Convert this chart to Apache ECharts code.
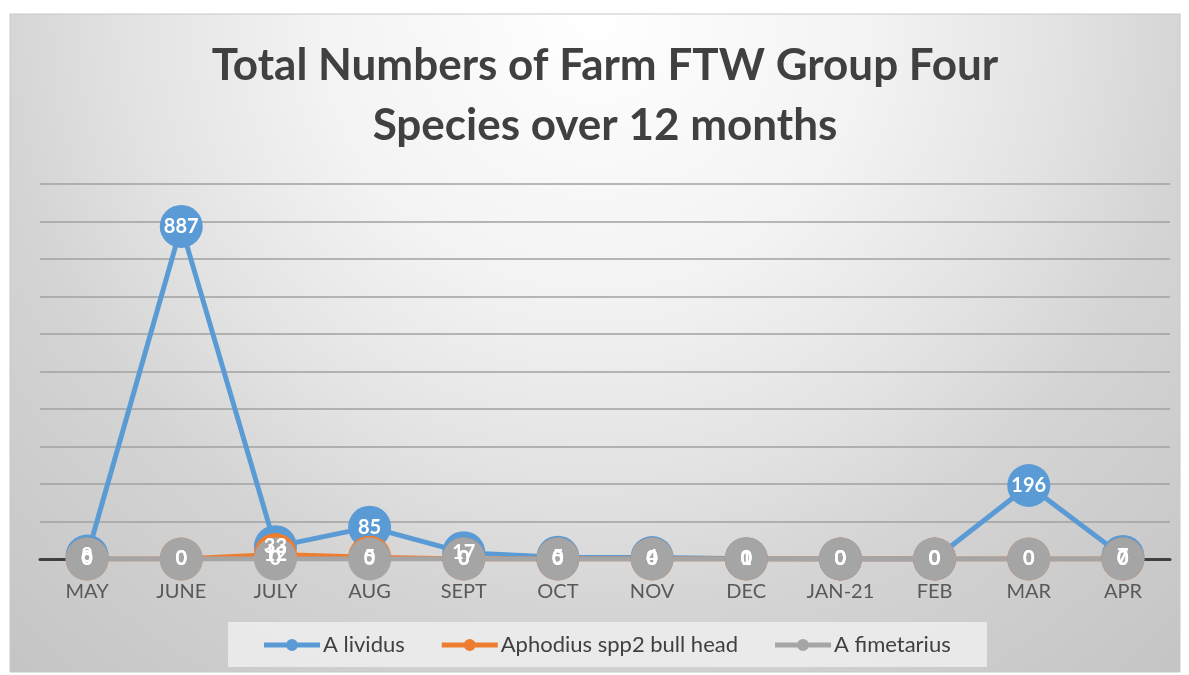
<!DOCTYPE html>
<html><head><meta charset="utf-8">
<script src="https://cdn.jsdelivr.net/npm/echarts@6/dist/echarts.min.js"></script>
<style>html,body{margin:0;padding:0;background:#fff}#c{width:1189px;height:675px}</style>
</head><body><div id="c"></div>
<script>
const categories = ["MAY","JUNE","JULY","AUG","SEPT","OCT","NOV","DEC","JAN-21","FEB","MAR","APR"];
const aLividus = [8, 887, 33, 85, 17, 5, 4, 1, 0, 0, 196, 7];
const aphodiusBullHead = [0, 0, 12, 5, 0, 0, 0, 0, 0, 0, 0, 0];
const aFimetarius = [0, 0, 0, 0, 0, 0, 0, 0, 0, 0, 0, 0];
const seriesNames = ["A lividus", "Aphodius spp2 bull head", "A fimetarius"];
const colors = ["#5B9BD5", "#ED7D31", "#A5A5A5"];
const yMin = 0, yMax = 1000, yInterval = 100;

const chart = echarts.init(document.getElementById('c'));
const font = 'Lato, "Open Sans", sans-serif';
function mk(name, data, color) {
  return {
    name, type: 'line', data,
    symbol: 'circle', symbolSize: 43,
    lineStyle: { width: 5, color },
    itemStyle: { color },
    label: { show: true, position: 'inside', color: '#fff', fontSize: 20, fontWeight: 'bold', fontFamily: font },
    emphasis: { disabled: true },
    z: 3
  };
}
const legendIcon = 'path://M0,4.5 L56,4.5 L56,9.5 L0,9.5 Z M22,7 A6,6 0 1 1 34,7 A6,6 0 1 1 22,7 Z M28,1 L28,1.01 Z M28,13 L28,13.01 Z';
chart.setOption({
  backgroundColor: '#fff',
  animation: false,
  graphic: [{
    type: 'rect', z: -10, silent: true,
    shape: { x: 10, y: 14, width: 1170, height: 658 },
    style: {
      fill: new echarts.graphic.RadialGradient(0.5, 0.0, 1.4, [
        { offset: 0, color: '#ffffff' },
        { offset: 0.3, color: '#f3f3f3' },
        { offset: 0.5, color: '#e3e3e3' },
        { offset: 0.65, color: '#d4d4d4' },
        { offset: 1, color: '#c2c2c2' }
      ]),
      stroke: '#c8c8c8', lineWidth: 1
    }
  }, {
    type: 'rect', z: -5, silent: true,
    shape: { x: 228, y: 622, width: 759, height: 45 },
    style: { fill: 'rgba(236,236,236,0.9)' }
  }],
  title: {
    text: 'Total Numbers of Farm FTW Group Four\nSpecies over 12 months',
    left: 600, textAlign: 'center', top: 31,
    textStyle: { fontFamily: font, fontSize: 44, fontWeight: 'bold', color: '#404040', lineHeight: 60 }
  },
  legend: {
    data: seriesNames.map((n, i) => ({ name: n, icon: legendIcon, itemStyle: { color: colors[i] } })),
    top: 629, left: 259,
    itemWidth: 56, itemHeight: 14, itemGap: 37,
    textStyle: { fontFamily: font, fontSize: 22, color: '#404040', padding: [0, 0, 0, -2] }
  },
  grid: { left: 40, right: 19, top: 184, bottom: 116 },
  xAxis: {
    type: 'category', data: categories, boundaryGap: true,
    axisLine: { lineStyle: { color: '#404040', width: 3 } },
    axisTick: { show: false },
    axisLabel: { fontFamily: font, fontSize: 20, color: '#595959', margin: 23 }
  },
  yAxis: {
    type: 'value', min: yMin, max: yMax, interval: yInterval,
    axisLabel: { show: false },
    axisLine: { show: false }, axisTick: { show: false },
    splitLine: { lineStyle: { color: '#a0a0a0', width: 1.5 } }
  },
  series: [
    mk(seriesNames[0], aLividus, colors[0]),
    mk(seriesNames[1], aphodiusBullHead, colors[1]),
    mk(seriesNames[2], aFimetarius, colors[2])
  ]
});
</script></body></html>
